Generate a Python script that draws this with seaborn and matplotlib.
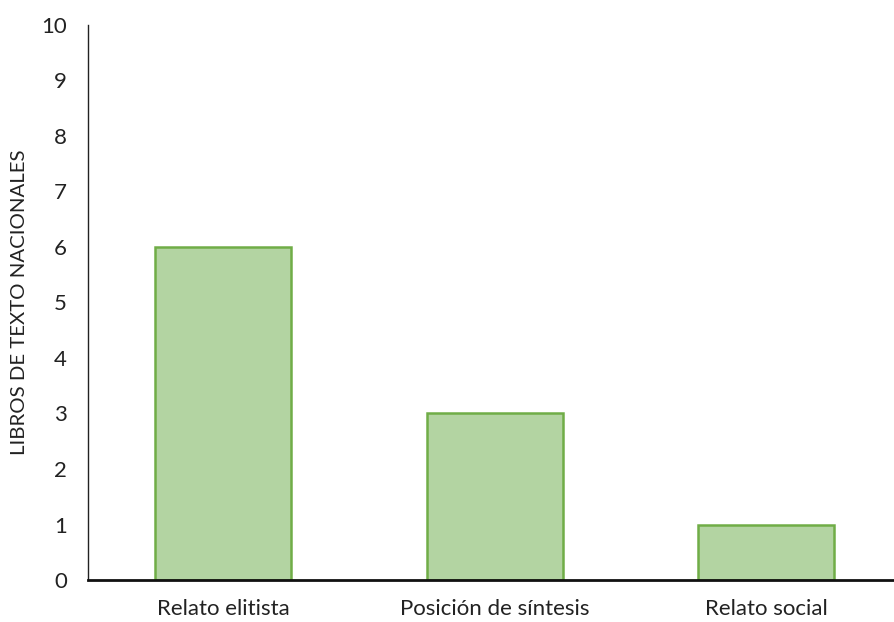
import matplotlib
matplotlib.use("Agg")
import matplotlib.pyplot as plt
import seaborn as sns
import pandas as pd

categories = ["Relato elitista", "Posición de síntesis", "Relato social"]
values = [6, 3, 1]
y_ticks = list(range(0, 11))

sns.set_theme(style="white")
plt.rcParams["font.family"] = ["Lato", "DejaVu Sans"]

df = pd.DataFrame({"relato": categories, "libros": values})

fig = plt.figure(figsize=(8.94, 6.22), dpi=100)
ax = fig.add_axes([0.0984, 0.0675, 0.9016, 0.8925])

sns.barplot(data=df, x="relato", y="libros", ax=ax, width=0.5,
            color="#b3d4a2", edgecolor="#70ad47", linewidth=1.8, saturation=1)

ax.set_ylim(0, 10)
ax.set_xlim(-0.497, 2.47)
ax.set_yticks(y_ticks)
ax.set_yticklabels([str(t) for t in y_ticks], fontsize=16, color="#222222")
ax.tick_params(axis="x", labelsize=16, colors="#222222", length=0, pad=14)
ax.tick_params(axis="y", length=0, pad=15)
ax.set_xlabel("")
ax.set_ylabel("LIBROS DE TEXTO NACIONALES", fontsize=14.7, color="#222222")
ax.yaxis.set_label_coords(-0.0744, 0.5)

for side in ["top", "right"]:
    ax.spines[side].set_visible(False)
ax.spines["left"].set_color("#222222")
ax.spines["left"].set_linewidth(1.0)
ax.spines["bottom"].set_color("#111111")
ax.spines["bottom"].set_linewidth(2.0)

fig.savefig("out.png", dpi=100)
